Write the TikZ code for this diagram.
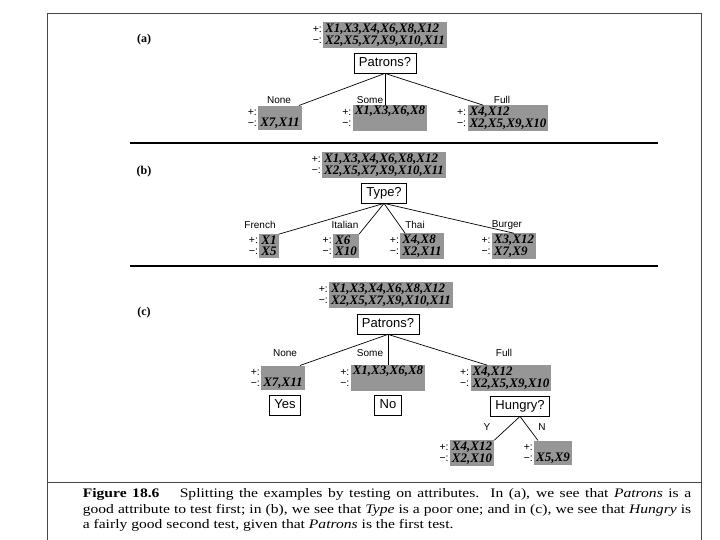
\documentclass[tikz,border=0pt]{standalone}
\usepackage{fontspec}
\setmainfont{Liberation Serif}
\setsansfont{Liberation Sans}
\usetikzlibrary{positioning, calc}
\definecolor{setgray}{RGB}{150,150,150}
\definecolor{framegray}{RGB}{70,70,70}
\newcommand{\tightlines}{\setlength{\lineskiplimit}{-10pt}}

\begin{document}
\begin{tikzpicture}[x=1pt, y=-1pt,
    exbox/.style={fill=setgray, inner xsep=2pt, inner ysep=1.5pt, align=left, font=\fontsize{13}{11.5}\selectfont\bfseries\itshape\tightlines},
    signs/.style={inner sep=0pt, align=left, font=\sffamily\fontsize{10.5}{11.5}\selectfont\tightlines},
    qbox/.style={draw, line width=0.8pt, inner xsep=5pt, inner ysep=4pt, text height=9.5pt, text depth=2.5pt, font=\sffamily\fontsize{13}{13}\selectfont},
    val/.style={inner sep=1pt, font=\sffamily\fontsize{10}{10}\selectfont},
    branch/.style={line width=0.7pt},
    sepline/.style={line width=1.8pt},
    frame/.style={draw=framegray, line width=0.8pt},
    tag/.style={font=\bfseries\fontsize{12}{12}\selectfont},
    caption/.style={inner sep=0pt, font=\fontsize{13}{15.5}\selectfont}
  ]
  \useasboundingbox (0,0) rectangle (720,540);

  % frame and separators
  \draw[frame] (47,540) -- (47,13) -- (701,13) -- (701,540);
  \draw[frame] (47,482) -- (701,482);
  \draw[sepline] (130,143) -- (658,143);
  \draw[sepline] (130,266) -- (658,266);

  % (a)
  \node[tag] (taga) at (144,40) {(a)};
  \node[exbox] (ra) at (385,35) {X1,X3,X4,X6,X8,X12\\X2,X5,X7,X9,X10,X11};
  \node[signs, left=1pt of ra] (ras) {+:\\−:};
  \node[qbox] (pa) at (385,63) {Patrons?};
  \node[exbox] (la1) at (280,118) {\strut\\X7,X11};
  \node[signs, left=1pt of la1] (la1s) {+:\\−:};
  \node[exbox] (la2) at (390,118) {X1,X3,X6,X8\\\strut};
  \node[signs, left=1pt of la2] (la2s) {+:\\−:};
  \node[exbox] (la3) at (508,118) {X4,X12\\X2,X5,X9,X10};
  \node[signs, left=1pt of la3] (la3s) {+:\\−:};
  \node[val] (va1) at (279,100) {None};
  \node[val] (va2) at (370,100) {Some};
  \node[val] (va3) at (502,100) {Full};
  \draw[branch] (pa.south) -- ($(la1.north east)+(-3,0)$);
  \draw[branch] (pa.south) -- (pa.south |- la2.north);
  \draw[branch] (pa.south) -- ($(la3.north west)+(16,0)$);

  % (b)
  \node[tag] (tagb) at (144,172) {(b)};
  \node[exbox] (rb) at (384,165) {X1,X3,X4,X6,X8,X12\\X2,X5,X7,X9,X10,X11};
  \node[signs, left=1pt of rb] (rbs) {+:\\−:};
  \node[qbox] (tb) at (384,193) {Type?};
  \node[exbox] (lb1) at (269,246) {X1\\X5};
  \node[signs, left=1pt of lb1] (lb1s) {+:\\−:};
  \node[exbox] (lb2) at (346,246) {X6\\X10};
  \node[signs, left=1pt of lb2] (lb2s) {+:\\−:};
  \node[exbox] (lb3) at (422,246) {X4,X8\\X2,X11};
  \node[signs, left=1pt of lb3] (lb3s) {+:\\−:};
  \node[exbox] (lb4) at (514,246) {X3,X12\\X7,X9};
  \node[signs, left=1pt of lb4] (lb4s) {+:\\−:};
  \node[val] (vb1) at (260,225) {French};
  \node[val] (vb2) at (345,225) {Italian};
  \node[val] (vb3) at (415,225) {Thai};
  \node[val] (vb4) at (507,225) {Burger};
  \draw[branch] (tb.south) -- (lb1.north east);
  \draw[branch] (tb.south) -- (lb2.north east);
  \draw[branch] (tb.south) -- ($(lb3.north west)+(5,0)$);
  \draw[branch] (tb.south) -- (lb4.north);

  % (c)
  \node[tag] (tagc) at (144,313) {(c)};
  \node[exbox] (rc) at (391,295) {X1,X3,X4,X6,X8,X12\\X2,X5,X7,X9,X10,X11};
  \node[signs, left=1pt of rc] (rcs) {+:\\−:};
  \node[qbox] (pc) at (388,324) {Patrons?};
  \node[exbox] (lc1) at (283,378) {\strut\\X7,X11};
  \node[signs, left=1pt of lc1] (lc1s) {+:\\−:};
  \node[exbox] (lc2) at (388,378) {X1,X3,X6,X8\\\strut};
  \node[signs, left=1pt of lc2] (lc2s) {+:\\−:};
  \node[exbox] (lc3) at (511,378) {X4,X12\\X2,X5,X9,X10};
  \node[signs, left=1pt of lc3] (lc3s) {+:\\−:};
  \node[val] (vc1) at (285,353) {None};
  \node[val] (vc2) at (370,353) {Some};
  \node[val] (vc3) at (504,353) {Full};
  \draw[branch] (pc.south) -- ($(lc1.north east)+(-5,0)$);
  \draw[branch] (pc.south) -- (pc.south |- lc2.north);
  \draw[branch] (pc.south) -- ($(lc3.north west)+(17,0)$);
  \node[qbox] (yes) at (285,405) {Yes};
  \node[qbox] (no) at (388,405) {No};
  \node[qbox] (hc) at (520,406) {Hungry?};
  \node[exbox] (hc1) at (472,453) {X4,X12\\X2,X10};
  \node[signs, left=1pt of hc1] (hc1s) {+:\\−:};
  \node[exbox] (hc2) at (553,453) {\strut\\X5,X9};
  \node[signs, left=1pt of hc2] (hc2s) {+:\\−:};
  \node[val] (vy) at (487,427) {Y};
  \node[val] (vn) at (542,427) {N};
  \draw[branch] (hc.south) -- (hc1.north east);
  \draw[branch] (hc.south) -- ($(hc2.north west)+(4,0)$);

  % caption
  \node[caption] (cap) at (387,510) {\scalebox{1.2}[1]{\parbox{507pt}{\textbf{Figure 18.6}\hspace{1.3em}Splitting the examples by testing on attributes.\ \ In (a), we see that \textit{Patrons} is a\linebreak good attribute to test first; in (b), we see that \textit{Type} is a poor one; and in (c), we see that \textit{Hungry} is\linebreak a fairly good second test, given that \textit{Patrons} is the first test.}}};
\end{tikzpicture}
\end{document}
